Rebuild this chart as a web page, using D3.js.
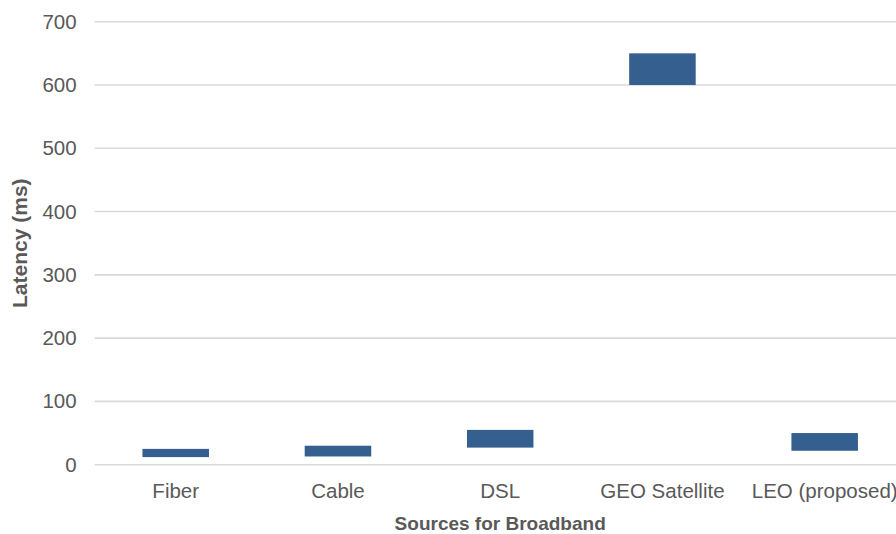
<!DOCTYPE html>
<html>
<head>
<meta charset="utf-8">
<script src="https://cdn.jsdelivr.net/npm/d3@7"></script>
<style>
  html, body { margin: 0; padding: 0; background: #fff; overflow: hidden; }
  svg { display: block; }
  text { font-family: "Liberation Sans", Arial, sans-serif; }
</style>
</head>
<body>
<svg id="chart" width="896" height="534"></svg>
<script>
// Latency ranges (ms) for each broadband source
const categories = ["Fiber", "Cable", "DSL", "GEO Satellite", "LEO (proposed)"];
const latencyLow  = [12, 13, 27, 600, 22];
const latencyHigh = [25, 30, 55, 650, 50];
const yTicks = [0, 100, 200, 300, 400, 500, 600, 700];

const xTitle = "Sources for Broadband";
const yTitle = "Latency (ms)";

const svg = d3.select("#chart");
const plot = { left: 94.6, right: 905.8, top: 21.7, bottom: 464.7 };
const labelFont = "20.5px";

const x = d3.scaleBand()
  .domain(categories)
  .range([plot.left, plot.right])
  .paddingInner(0.59)
  .paddingOuter(0.295);

const y = d3.scaleLinear().domain([0, 700]).range([plot.bottom, plot.top]);

// horizontal gridlines
svg.append("g")
  .selectAll("line")
  .data(yTicks)
  .join("line")
  .attr("x1", plot.left)
  .attr("x2", plot.right)
  .attr("y1", d => y(d))
  .attr("y2", d => y(d))
  .attr("stroke", "#d9d9d9")
  .attr("stroke-width", 1.6);

// y axis labels
const yAxis = svg.append("g")
  .attr("transform", `translate(${plot.left - 18},0)`)
  .call(d3.axisLeft(y).tickValues(yTicks).tickSize(0).tickPadding(0));
yAxis.select(".domain").remove();
yAxis.selectAll("text")
  .attr("fill", "#595959")
  .style("font-size", labelFont)
  .style("font-family", "'Liberation Sans', Arial, sans-serif");

// x axis labels
const xAxis = svg.append("g")
  .attr("transform", `translate(0,${plot.bottom + 19})`)
  .call(d3.axisBottom(x).tickSize(0).tickPadding(0));
xAxis.select(".domain").remove();
xAxis.selectAll("text")
  .attr("fill", "#595959")
  .style("font-size", labelFont)
  .style("font-family", "'Liberation Sans', Arial, sans-serif");

// floating range bars
svg.append("g")
  .selectAll("rect")
  .data(categories)
  .join("rect")
  .attr("x", d => x(d))
  .attr("width", x.bandwidth())
  .attr("y", (d, i) => y(latencyHigh[i]))
  .attr("height", (d, i) => y(latencyLow[i]) - y(latencyHigh[i]))
  .attr("fill", "#355f8f");

// axis titles
svg.append("text")
  .attr("x", (plot.left + plot.right) / 2)
  .attr("y", 530)
  .attr("text-anchor", "middle")
  .attr("fill", "#595959")
  .style("font-size", "19px")
  .style("font-weight", "bold")
  .text(xTitle);

svg.append("text")
  .attr("transform", `translate(27,${(plot.top + plot.bottom) / 2}) rotate(-90)`)
  .attr("text-anchor", "middle")
  .attr("fill", "#595959")
  .style("font-size", "21px")
  .style("font-weight", "bold")
  .text(yTitle);
</script>
</body>
</html>
